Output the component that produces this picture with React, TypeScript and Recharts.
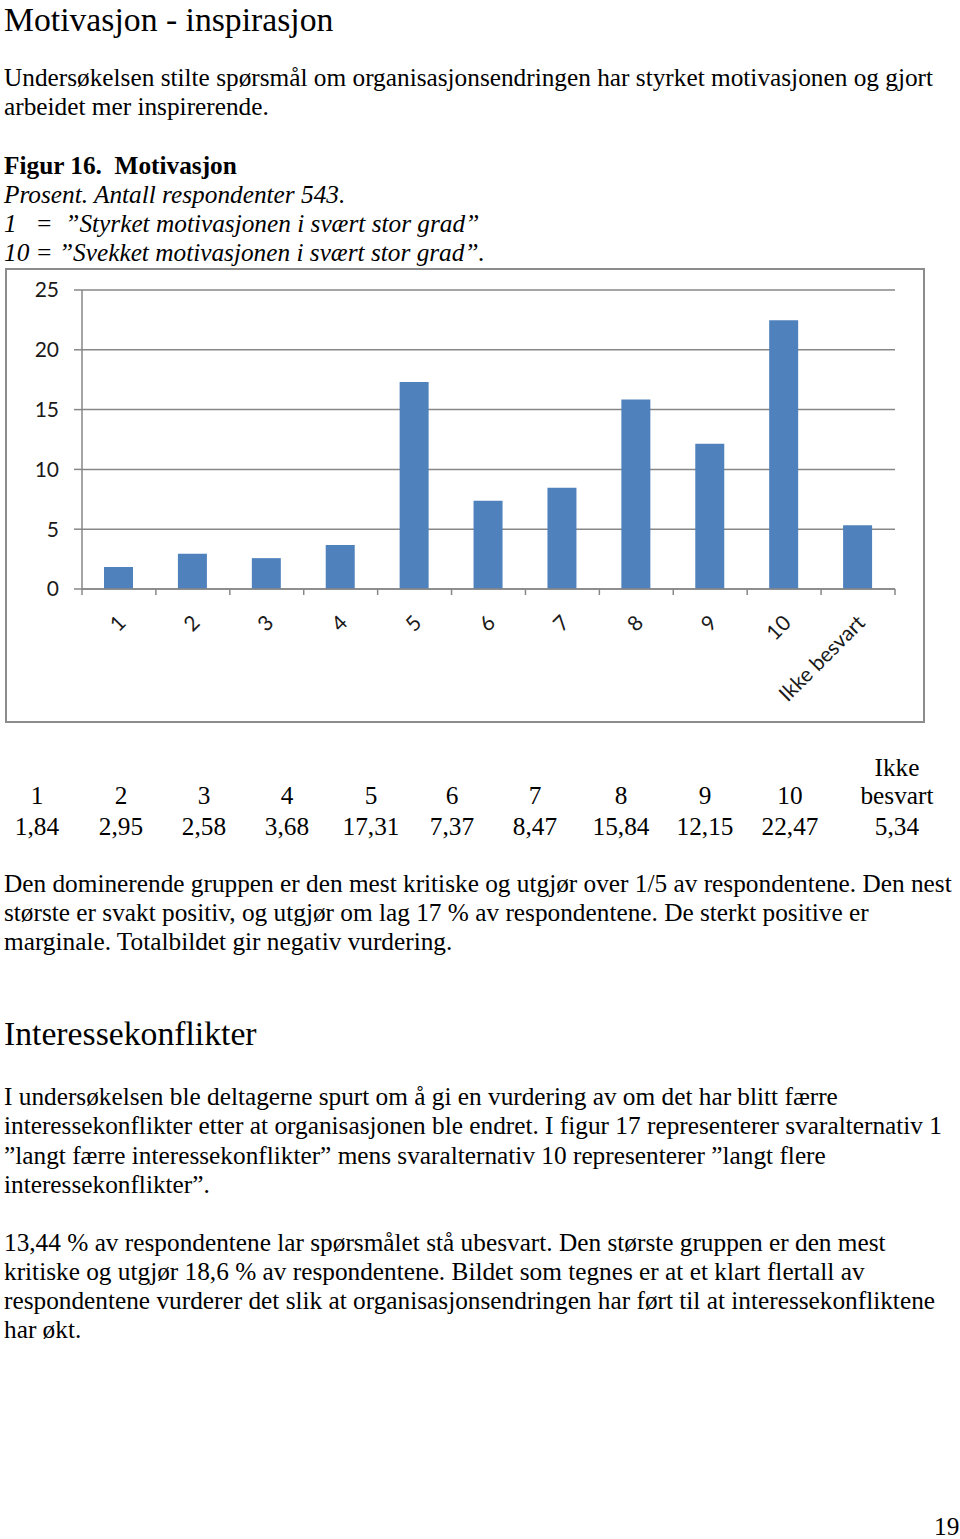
import { BarChart, Bar, XAxis, YAxis, CartesianGrid } from 'recharts';

// Figur 16 – Motivasjon (prosent, n = 543)
const categories = ['1', '2', '3', '4', '5', '6', '7', '8', '9', '10', 'Ikke besvart'];
const values = [1.84, 2.95, 2.58, 3.68, 17.31, 7.37, 8.47, 15.84, 12.15, 22.47, 5.34];
const yTicks = [0, 5, 10, 15, 20, 25];

const tableLabels = ['1', '2', '3', '4', '5', '6', '7', '8', '9', '10', 'besvart'];
const tableCenters = [37, 121, 204, 287, 371, 452, 535, 621, 705, 790, 897];

const data = categories.map((name, i) => ({ name, value: values[i] }));

const BAR_COLOR = '#4F81BD';
const AXIS_COLOR = '#878787';
const CHART_FONT = 'Lato, "Open Sans", sans-serif';
const SERIF = '"Liberation Serif", "Times New Roman", serif';
const BODY = 25.3;
const HEAD = 33.7;

const fmt = (v: number) => v.toFixed(2).replace('.', ',');

// Excel-style tick: mark between categories, label rotated -45°
const CategoryTick = (props: any) => {
  const { x, y, payload, index, visibleTicksCount } = props;
  const half = typeof payload?.offset === 'number' && payload.offset > 0 ? payload.offset : 813 / 22;
  const isLast = index === visibleTicksCount - 1;
  return (
    <g>
      <line x1={x - half} x2={x - half} y1={y} y2={y + 6} stroke={AXIS_COLOR} strokeWidth={1.5} />
      {isLast && <line x1={x + half} x2={x + half} y1={y} y2={y + 6} stroke={AXIS_COLOR} strokeWidth={1.5} />}
      <text
        x={x + 3}
        y={y + 30}
        dy="0.35em"
        textAnchor="end"
        transform={`rotate(-45, ${x + 3}, ${y + 30})`}
        fill="#1a1a1a"
        fontSize={21}
        fontFamily={CHART_FONT}
      >
        {payload.value}
      </text>
    </g>
  );
};

const Line = ({ top, children, style }: { top: number; children: any; style?: any }) => (
  <div
    style={{
      position: 'absolute',
      left: 4,
      top,
      fontSize: BODY,
      lineHeight: '29px',
      whiteSpace: 'nowrap',
      ...style,
    }}
  >
    {children}
  </div>
);

const cell = { position: 'absolute' as const, width: 120, textAlign: 'center' as const, fontSize: BODY, lineHeight: '29px' };

export default function App() {
  return (
    <div
      style={{
        position: 'absolute',
        left: 0,
        top: 0,
        width: 960,
        height: 1539,
        background: '#fff',
        color: '#000',
        fontFamily: SERIF,
        overflow: 'hidden',
      }}
    >
      <Line top={2} style={{ fontSize: HEAD, lineHeight: '36px' }}>Motivasjon - inspirasjon</Line>

      <Line top={63}>Undersøkelsen stilte spørsmål om organisasjonsendringen har styrket motivasjonen og gjort</Line>
      <Line top={92}>arbeidet mer inspirerende.</Line>

      <Line top={151} style={{ fontWeight: 'bold' }}>Figur 16.&nbsp; Motivasjon</Line>
      <Line top={180} style={{ fontStyle: 'italic' }}>Prosent. Antall respondenter 543.</Line>
      <Line top={209} style={{ fontStyle: 'italic' }}>1&nbsp;&nbsp; =&nbsp; ”Styrket motivasjonen i svært stor grad”</Line>
      <Line top={238} style={{ fontStyle: 'italic' }}>10 = ”Svekket motivasjonen i svært stor grad”.</Line>

      <div
        style={{
          position: 'absolute',
          left: 5,
          top: 268,
          width: 916,
          height: 451,
          border: '2px solid #8c8c8c',
        }}
      >
        <BarChart width={916} height={451} data={data} margin={{ top: 20, right: 28, bottom: 20, left: 15 }}>
          <CartesianGrid horizontal vertical={false} stroke={AXIS_COLOR} strokeWidth={1.5} />
          <XAxis
            dataKey="name"
            interval={0}
            height={112}
            tickLine={false}
            tickSize={0}
            tickMargin={0}
            axisLine={{ stroke: AXIS_COLOR, strokeWidth: 1.5 }}
            tick={<CategoryTick />}
          />
          <YAxis
            width={60}
            domain={[0, 25]}
            ticks={yTicks}
            interval={0}
            tickSize={8}
            tickMargin={15}
            axisLine={{ stroke: AXIS_COLOR, strokeWidth: 1.5 }}
            tickLine={{ stroke: AXIS_COLOR, strokeWidth: 1.5 }}
            tick={{ fill: '#1a1a1a', fontSize: 21, fontFamily: CHART_FONT }}
          />
          <Bar dataKey="value" fill={BAR_COLOR} barSize={29} isAnimationActive={false} />
        </BarChart>
      </div>

      {/* value table under the chart */}
      <div style={{ ...cell, left: tableCenters[10] - 60, top: 753 }}>Ikke</div>
      {tableLabels.map((label, i) => (
        <div key={`h-${i}`} style={{ ...cell, left: tableCenters[i] - 60, top: 781 }}>
          {label}
        </div>
      ))}
      {values.map((v, i) => (
        <div key={`v-${i}`} style={{ ...cell, left: tableCenters[i] - 60, top: 812 }}>
          {fmt(v)}
        </div>
      ))}

      <Line top={869}>Den dominerende gruppen er den mest kritiske og utgjør over 1/5 av respondentene. Den nest</Line>
      <Line top={898}>største er svakt positiv, og utgjør om lag 17 % av respondentene. De sterkt positive er</Line>
      <Line top={927}>marginale. Totalbildet gir negativ vurdering.</Line>

      <Line top={1017} style={{ fontSize: HEAD, lineHeight: '34px' }}>Interessekonflikter</Line>

      <Line top={1082}>I undersøkelsen ble deltagerne spurt om å gi en vurdering av om det har blitt færre</Line>
      <Line top={1111}>interessekonflikter etter at organisasjonen ble endret. I figur 17 representerer svaralternativ 1</Line>
      <Line top={1141}>”langt færre interessekonflikter” mens svaralternativ 10 representerer ”langt flere</Line>
      <Line top={1170}>interessekonflikter”.</Line>

      <Line top={1228}>13,44 % av respondentene lar spørsmålet stå ubesvart. Den største gruppen er den mest</Line>
      <Line top={1257}>kritiske og utgjør 18,6 % av respondentene. Bildet som tegnes er at et klart flertall av</Line>
      <Line top={1286}>respondentene vurderer det slik at organisasjonsendringen har ført til at interessekonfliktene</Line>
      <Line top={1315}>har økt.</Line>

      <Line top={1512} style={{ left: 934 }}>19</Line>
    </div>
  );
}
